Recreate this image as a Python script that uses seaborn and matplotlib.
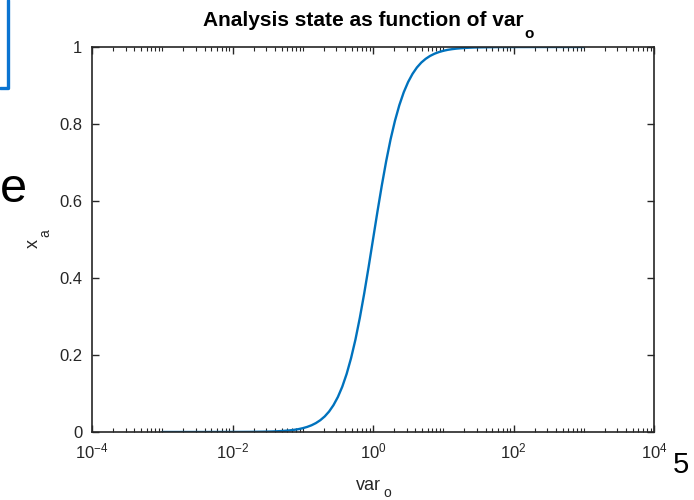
import numpy as np
import pandas as pd
import matplotlib
matplotlib.use("Agg")
import matplotlib.pyplot as plt
import seaborn as sns
from matplotlib.ticker import LogLocator, FixedLocator, NullFormatter
from matplotlib.lines import Line2D

# values (x given as log10 of var_o)
var_o_exp = [-3.0, -2.5, -2.0, -1.75,
             -1.5, -1.4375, -1.375, -1.3125, -1.25, -1.1875, -1.125, -1.0625,
             -1.0, -0.9375, -0.875, -0.8125, -0.75, -0.6875, -0.625, -0.5625,
             -0.5, -0.4375, -0.375, -0.3125, -0.25, -0.1875, -0.125, -0.0625,
             0.0, 0.0625, 0.125, 0.1875, 0.25, 0.3125, 0.375, 0.4375,
             0.5, 0.5625, 0.625, 0.6875, 0.75, 0.8125, 0.875, 0.9375,
             1.0, 1.0625, 1.125, 1.1875, 1.25, 1.3125, 1.375, 1.4375, 1.5,
             1.75, 2.0, 2.5, 3.0]
x_a = [0.0, 0.0, 0.0001, 0.0003,
       0.001, 0.0013, 0.0018, 0.0024, 0.0032, 0.0042, 0.0056, 0.0074,
       0.0099, 0.0132, 0.0175, 0.0232, 0.0307, 0.0404, 0.0532, 0.0698,
       0.0909, 0.1176, 0.151, 0.1917, 0.240, 0.2966, 0.360, 0.4285,
       0.5, 0.5715, 0.640, 0.7034, 0.760, 0.8083, 0.849, 0.8824,
       0.9091, 0.9302, 0.9468, 0.9596, 0.9693, 0.9768, 0.9825, 0.9868,
       0.9901, 0.9926, 0.9944, 0.9958, 0.9968, 0.9976, 0.9982, 0.9987, 0.999,
       0.9997, 0.9999, 1.0, 1.0]

yticks = [0, 0.2, 0.4, 0.6, 0.8, 1]
ytick_labels = ["0", "0.2", "0.4", "0.6", "0.8", "1"]
xticks = [1e-4, 1e-2, 1e0, 1e2, 1e4]

df = pd.DataFrame({"var_o": [10 ** e for e in var_o_exp], "x_a": x_a})

sns.set_style("ticks")
plt.rcParams["font.family"] = ["Liberation Sans", "DejaVu Sans"]
plt.rcParams["mathtext.fontset"] = "custom"
plt.rcParams["mathtext.rm"] = "Liberation Sans"
plt.rcParams["mathtext.it"] = "Liberation Sans"
plt.rcParams["mathtext.bf"] = "Liberation Sans:bold"
plt.rcParams["axes.unicode_minus"] = False

fig = plt.figure(figsize=(6.94, 5.0), dpi=100)
ax = fig.add_axes([92 / 694, 1 - 432 / 500, (654 - 92) / 694, (432 - 47) / 500])

sns.lineplot(data=df, x="var_o", y="x_a", color="#0072BD", linewidth=1.7, ax=ax)

ax.set_xscale("log")
ax.set_xlim(1e-4, 1e4)
ax.set_ylim(0, 1)
ax.xaxis.set_major_locator(FixedLocator(xticks))
ax.xaxis.set_minor_locator(LogLocator(base=10, subs=np.arange(1, 10), numticks=100))
ax.xaxis.set_minor_formatter(NullFormatter())
ax.set_yticks(yticks)
ax.set_yticklabels(ytick_labels)
ax.set_xlabel("")
ax.set_ylabel("")

for side in ["top", "right", "bottom", "left"]:
    ax.spines[side].set_visible(True)
    ax.spines[side].set_color("#262626")
    ax.spines[side].set_linewidth(1.2)
ax.tick_params(which="both", direction="in", top=True, right=True, colors="#262626",
               labelsize=12, labelcolor="#262626")
ax.tick_params(which="major", length=5, width=1.0, pad=7)
ax.tick_params(which="minor", length=3, width=0.8)
ax.grid(False)

# MATLAB style labels: subscripts sit low, below the baseline
title = fig.text(363 / 694, 1 - 20 / 500, "Analysis state as function of var",
                 fontsize=15, fontweight="bold", color="black", ha="center", va="center")
ax.annotate("o", xy=(1, 0), xycoords=title, xytext=(0.5, 1.5), textcoords="offset points",
            fontsize=11, fontweight="bold", color="black", ha="left", va="top")

lab_col = "#262626"
fig.text(368 / 694, 1 - 490 / 500, "var", fontsize=13, color=lab_col,
         ha="center", va="baseline")
fig.text(387 / 694, 1 - 493 / 500, "o", fontsize=10, color=lab_col,
         ha="center", va="center")
fig.text(33 / 694, 1 - 244 / 500, "x", fontsize=13, color=lab_col,
         rotation=90, ha="center", va="center")
fig.text(45 / 694, 1 - 233 / 500, "a", fontsize=10, color=lab_col,
         rotation=90, ha="center", va="center")

# leftovers of the cropped screenshot
fig.add_artist(Line2D([0, 8 / 694, 8 / 694], [1 - 88 / 500, 1 - 88 / 500, 1],
                      transform=fig.transFigure, color="#0a74d1", linewidth=2.4))
fig.text(13 / 694, 1 - 189 / 500, "e", fontsize=35, color="black", va="center", ha="center")
fig.text(681 / 694, 1 - 465 / 500, "5", fontsize=21, color="black", va="center", ha="center")

fig.savefig("out.png", dpi=100)
plt.close(fig)
